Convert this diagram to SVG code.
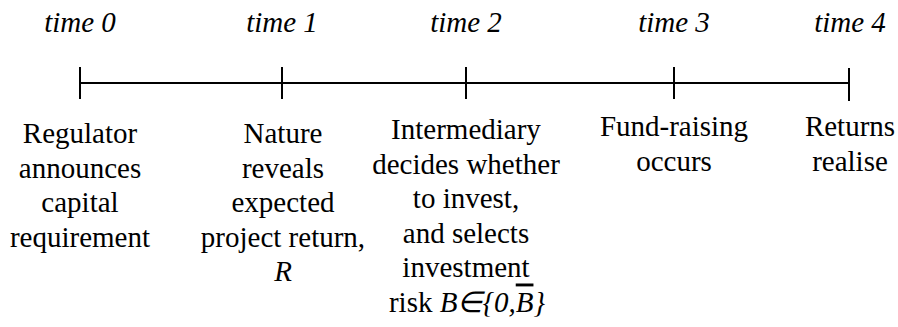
<svg xmlns="http://www.w3.org/2000/svg" width="898" height="327" viewBox="0 0 898 327">
  <style>
    text { font-family: "Liberation Serif", serif; font-size: 29px; fill: #000; text-anchor: middle; }
    .i { font-style: italic; }
    .ax { stroke: #000; stroke-width: 2; fill: none; }
  </style>
  <rect width="898" height="327" fill="#fff"/>

  <!-- timeline axis and ticks -->
  <g id="connectors">
    <line class="ax" x1="80" y1="83" x2="849" y2="83"/>
    <line class="ax" x1="80" y1="67" x2="80" y2="99"/>
    <line class="ax" x1="282" y1="67" x2="282" y2="99"/>
    <line class="ax" x1="466" y1="67" x2="466" y2="99"/>
    <line class="ax" x1="674" y1="67" x2="674" y2="99"/>
    <line class="ax" x1="849" y1="68" x2="849" y2="101"/>
  </g>

  <g id="t0">
    <text class="i" x="80" y="32">time 0</text>
    <text x="80" y="143">Regulator</text>
    <text x="80" y="177.5">announces</text>
    <text x="80" y="212">capital</text>
    <text x="80" y="246.5">requirement</text>
  </g>

  <g id="t1">
    <text class="i" x="282" y="32">time 1</text>
    <text x="283" y="143">Nature</text>
    <text x="283" y="177.5">reveals</text>
    <text x="283" y="212">expected</text>
    <text x="283" y="246.5">project return,</text>
    <text class="i" x="283" y="281">R</text>
  </g>

  <g id="t2">
    <text class="i" x="466" y="32">time 2</text>
    <text x="466" y="139">Intermediary</text>
    <text x="466" y="173.5">decides whether</text>
    <text x="466" y="208">to invest,</text>
    <text x="466" y="242.5">and selects</text>
    <text x="466" y="277">investment</text>
    <text x="467" y="311.5">risk <tspan class="i">B∈{0,<tspan text-decoration="overline">B</tspan>}</tspan></text>
  </g>

  <g id="t3">
    <text class="i" x="674" y="32">time 3</text>
    <text x="674" y="136">Fund-raising</text>
    <text x="674" y="171">occurs</text>
  </g>

  <g id="t4">
    <text class="i" x="850" y="32">time 4</text>
    <text x="850" y="136">Returns</text>
    <text x="850" y="171">realise</text>
  </g>
</svg>
